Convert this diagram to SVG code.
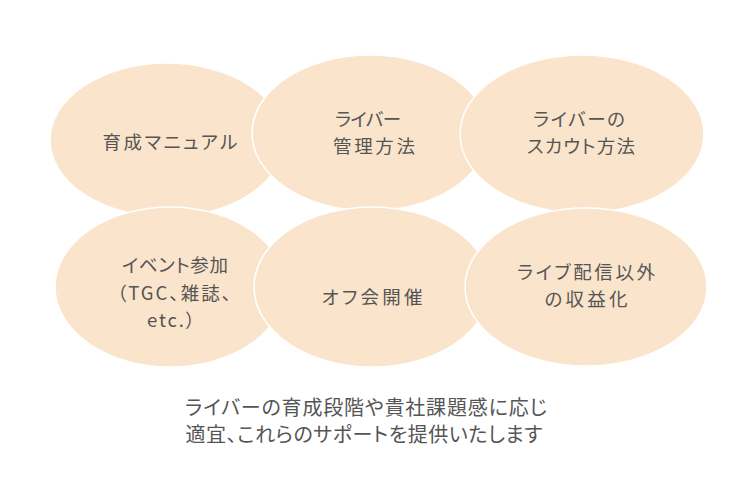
<svg xmlns="http://www.w3.org/2000/svg" width="750" height="500" viewBox="0 0 750 500">
<style>
.n ellipse{fill:#fbe4cc;stroke:#ffffff;stroke-width:1.5}
.n text,.cap{font-family:"Noto Sans CJK JP","Liberation Sans",sans-serif;font-size:18.5px;fill:#555555;text-anchor:middle;font-feature-settings:"palt" 1}
.cap{font-size:20px}
</style>
<rect width="750" height="500" fill="#ffffff"/>
<g id="n1" class="n"><ellipse cx="167" cy="140" rx="117" ry="77"/><text x="170" y="149" textLength="135" lengthAdjust="spacing">育成マニュアル</text></g>
<g id="n2" class="n"><ellipse cx="370" cy="133" rx="118" ry="78"/><text x="368" y="126" textLength="66" lengthAdjust="spacing">ライバー</text><text x="374" y="153" textLength="82" lengthAdjust="spacing">管理方法</text></g>
<g id="n3" class="n"><ellipse cx="582" cy="134" rx="122" ry="79"/><text x="579" y="126" textLength="92" lengthAdjust="spacing">ライバーの</text><text x="581" y="153" textLength="108" lengthAdjust="spacing">スカウト方法</text></g>
<g id="n4" class="n"><ellipse cx="170" cy="287" rx="115" ry="80"/><text x="175" y="272" textLength="106" lengthAdjust="spacing">イベント参加</text><text x="174" y="300" textLength="114" lengthAdjust="spacing">（TGC、雑誌、</text><text x="171" y="327" textLength="48" lengthAdjust="spacing">etc.）</text></g>
<g id="n5" class="n"><ellipse cx="372" cy="287" rx="118" ry="80"/><text x="372" y="304" textLength="101" lengthAdjust="spacing">オフ会開催</text></g>
<g id="n6" class="n"><ellipse cx="586" cy="287" rx="121" ry="79"/><text x="586" y="279" textLength="138" lengthAdjust="spacing">ライブ配信以外</text><text x="586" y="306" textLength="83" lengthAdjust="spacing">の収益化</text></g>
<g id="connectors"/>
<text class="cap" x="366" y="415" textLength="362" lengthAdjust="spacing">ライバーの育成段階や貴社課題感に応じ</text>
<text class="cap" x="364" y="442" textLength="357" lengthAdjust="spacing">適宜、これらのサポートを提供いたします</text>
</svg>
